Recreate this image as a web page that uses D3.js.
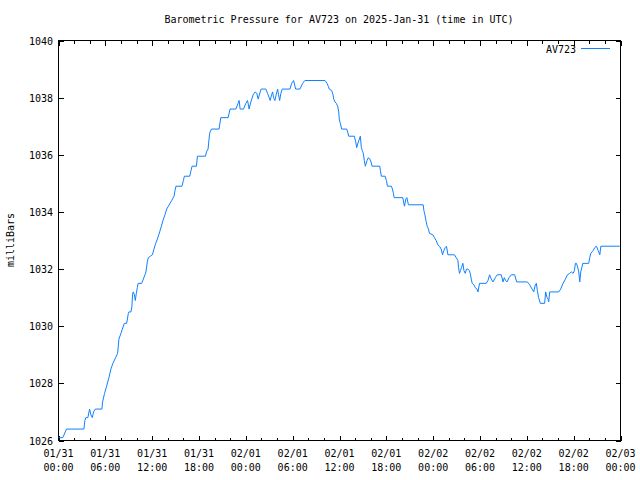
<!DOCTYPE html>
<html>
<head>
<meta charset="utf-8">
<script src="https://cdn.jsdelivr.net/npm/d3@7"></script>
<style>
html,body{margin:0;padding:0;background:#fff;}
svg text{font-family:"DejaVu Sans Mono","Liberation Mono",monospace;font-size:10px;fill:#000;}
</style>
</head>
<body>
<svg id="chart" width="640" height="480"></svg>
<script>
// hours since 2025-01-31 00:00 UTC
const hours = [0,0.55,1.03,3.25,3.38,3.5,3.76,3.98,4.15,4.33,4.49,4.71,5.56,5.65,5.9,6.16,6.46,6.71,6.97,7.32,7.57,7.66,7.74,8.0,8.18,8.43,8.73,8.95,9.02,9.28,9.41,9.5,9.59,9.72,9.84,9.97,10.1,10.2,10.65,10.87,11.08,11.2,11.38,11.51,11.77,12.03,12.23,12.45,12.67,12.96,13.18,13.44,13.64,13.86,14.08,14.28,14.5,14.8,14.93,15.05,15.82,16.0,16.13,16.81,16.98,17.11,17.67,17.8,18.83,18.96,19.16,19.25,19.34,19.42,19.6,20.57,20.79,21.73,21.98,22.72,23.01,23.14,23.27,23.7,24.0,24.22,24.42,24.64,24.94,25.19,25.41,25.58,25.84,25.96,26.57,26.78,26.99,27.12,27.3,27.43,27.56,27.72,27.89,28.07,28.2,28.33,28.49,28.66,29.65,29.87,30.12,30.38,30.93,31.28,31.57,34.14,34.4,34.56,34.69,35.0,35.17,35.26,35.42,35.59,35.77,35.9,35.97,36.1,36.28,36.92,37.05,37.18,37.9,38.08,38.2,38.41,38.54,38.67,38.8,38.92,39.05,39.18,39.31,39.53,39.7,39.88,40.04,40.17,41.16,41.24,41.36,41.84,42.01,42.14,42.65,42.78,42.91,43.0,44.11,44.32,44.5,44.63,44.75,44.83,46.72,46.81,46.94,47.07,47.23,47.4,47.53,47.96,48.17,48.38,48.6,48.81,49.03,49.19,49.37,49.54,49.71,49.89,50.73,50.95,51.17,51.25,51.37,51.5,51.63,51.81,51.94,52.11,52.27,52.45,52.62,52.75,52.88,53.0,53.22,53.39,53.61,53.74,53.94,54.8,55.02,55.23,55.44,55.66,55.96,56.21,56.73,56.95,57.11,57.28,57.46,57.72,58.01,58.44,58.7,60.07,60.36,60.67,60.88,61.09,61.22,61.35,61.51,61.73,62.28,62.41,62.59,62.72,62.8,62.93,64.08,64.34,64.64,64.94,65.2,65.49,65.71,65.93,66.1,66.22,66.35,66.48,66.65,66.78,66.91,67.09,67.16,67.93,68.06,68.19,68.5,68.7,68.92,69.14,69.35,69.48,71.9];
const pressure = [1026.1,1026.1,1026.4,1026.4,1026.7,1026.8,1026.8,1027.1,1026.9,1026.8,1027.0,1027.1,1027.1,1027.35,1027.65,1027.9,1028.2,1028.5,1028.7,1028.9,1029.05,1029.3,1029.55,1029.75,1029.9,1030.1,1030.1,1030.45,1030.5,1030.5,1030.7,1031.15,1031.2,1031.1,1030.9,1031.15,1031.35,1031.5,1031.5,1031.65,1031.8,1031.9,1032.25,1032.4,1032.45,1032.5,1032.7,1032.9,1033.05,1033.3,1033.5,1033.75,1033.9,1034.1,1034.2,1034.3,1034.4,1034.55,1034.75,1034.9,1034.9,1035.1,1035.25,1035.25,1035.45,1035.6,1035.6,1035.95,1035.95,1036.1,1036.2,1036.45,1036.7,1036.8,1036.9,1036.9,1037.3,1037.3,1037.6,1037.6,1037.8,1037.9,1037.6,1037.6,1037.8,1037.9,1037.6,1037.85,1038.1,1038.2,1038.15,1037.95,1038.2,1038.3,1038.3,1038.15,1038.0,1037.9,1038.1,1038.2,1038.0,1037.9,1038.1,1038.3,1038.1,1037.9,1038.15,1038.3,1038.3,1038.5,1038.6,1038.3,1038.3,1038.5,1038.6,1038.6,1038.5,1038.4,1038.3,1038.25,1038.1,1037.95,1037.85,1037.8,1037.7,1037.5,1037.25,1037.1,1036.9,1036.9,1036.8,1036.65,1036.65,1036.45,1036.25,1036.45,1036.55,1036.65,1036.25,1036.15,1036.05,1035.8,1035.6,1035.8,1035.9,1035.85,1035.75,1035.6,1035.6,1035.45,1035.25,1035.25,1035.1,1034.9,1034.9,1034.8,1034.65,1034.5,1034.5,1034.2,1034.45,1034.5,1034.35,1034.25,1034.25,1034.05,1033.9,1033.7,1033.5,1033.4,1033.25,1033.2,1033.1,1033.0,1032.85,1032.8,1032.7,1032.5,1032.65,1032.75,1032.8,1032.5,1032.5,1032.4,1032.3,1032.05,1031.85,1031.95,1032.05,1032.2,1031.95,1031.85,1032.0,1032.0,1031.95,1031.85,1031.65,1031.5,1031.45,1031.35,1031.3,1031.2,1031.5,1031.5,1031.6,1031.8,1031.65,1031.55,1031.7,1031.8,1031.8,1031.55,1031.7,1031.6,1031.55,1031.7,1031.8,1031.8,1031.55,1031.55,1031.45,1031.3,1031.2,1031.45,1031.5,1031.25,1031.0,1030.8,1030.8,1031.2,1031.0,1030.95,1030.85,1031.2,1031.2,1031.3,1031.5,1031.65,1031.8,1031.85,1031.9,1031.85,1031.95,1032.2,1032.2,1032.1,1031.9,1031.55,1031.9,1032.1,1032.2,1032.2,1032.4,1032.55,1032.65,1032.75,1032.8,1032.65,1032.5,1032.8,1032.8];

const xTickHours = [0,6,12,18,24,30,36,42,48,54,60,66,72];
const xTickDates = ["01/31","01/31","01/31","01/31","02/01","02/01","02/01","02/01","02/02","02/02","02/02","02/02","02/03"];
const xTickTimes = ["00:00","06:00","12:00","18:00","00:00","06:00","12:00","18:00","00:00","06:00","12:00","18:00","00:00"];
const yTicks = [1026,1028,1030,1032,1034,1036,1038,1040];
const seriesName = "AV723";
const titleText = "Barometric Pressure for AV723 on 2025-Jan-31 (time in UTC)";
const yLabel = "milliBars";

const L = 58, R = 620, T = 40, B = 440;
const svg = d3.select("#chart");
const x = d3.scaleLinear().domain([0,72]).range([L+0.5, R+0.5]);
const y = d3.scaleLinear().domain([1026,1040]).range([B+0.5, T+0.5]);
const col = "#0f80ff";

// minor ticks every 2h, major every 6h
const minorX = d3.range(0,73,2).filter(h => h % 6 !== 0);

// bottom axis
const xb = svg.append("g").attr("transform",`translate(0,${B+0.5})`)
  .call(d3.axisBottom(x).tickValues(xTickHours).tickSize(-5).tickFormat(""));
xb.select(".domain").remove();
const xbm = svg.append("g").attr("transform",`translate(0,${B+0.5})`)
  .call(d3.axisBottom(x).tickValues(minorX).tickSize(-3).tickFormat(""));
xbm.select(".domain").remove();
const xt = svg.append("g").attr("transform",`translate(0,${T+0.5})`)
  .call(d3.axisTop(x).tickValues(xTickHours).tickSize(-5).tickFormat(""));
xt.select(".domain").remove();
const xtm = svg.append("g").attr("transform",`translate(0,${T+0.5})`)
  .call(d3.axisTop(x).tickValues(minorX).tickSize(-3).tickFormat(""));
xtm.select(".domain").remove();

const yl = svg.append("g").attr("transform",`translate(${L+0.5},0)`)
  .call(d3.axisLeft(y).tickValues(yTicks).tickSize(-5).tickFormat(""));
yl.select(".domain").remove();
const yr = svg.append("g").attr("transform",`translate(${R+0.5},0)`)
  .call(d3.axisRight(y).tickValues(yTicks).tickSize(-5).tickFormat(""));
yr.select(".domain").remove();
svg.selectAll(".tick line").attr("stroke","#000").attr("shape-rendering","crispEdges");

// frame
svg.append("rect").attr("x",L+0.5).attr("y",T+0.5).attr("width",R-L).attr("height",B-T)
  .attr("fill","none").attr("stroke","#000").attr("shape-rendering","crispEdges");

// x labels
const xl = svg.append("g");
xTickHours.forEach((h,i)=>{
  const t = xl.append("text").attr("x",x(h)).attr("text-anchor","middle");
  t.append("tspan").attr("x",x(h)).attr("y",457).text(xTickDates[i]);
  t.append("tspan").attr("x",x(h)).attr("y",471).text(xTickTimes[i]);
});
// y labels
svg.append("g").selectAll("text").data(yTicks).join("text")
  .attr("x",53).attr("y",d=>y(d)+4).attr("text-anchor","end").text(d=>d);

// title
svg.append("text").attr("x",339).attr("y",23).attr("text-anchor","middle").text(titleText);
// y label
svg.append("text").attr("transform","translate(14,240) rotate(-90)").attr("text-anchor","middle").text(yLabel);

// line
const line = d3.line().x((d,i)=>x(hours[i])).y(d=>y(d));
svg.append("path").datum(pressure).attr("d",line).attr("fill","none")
  .attr("stroke",col).attr("stroke-width",1);

// legend
svg.append("text").attr("x",576).attr("y",53).attr("text-anchor","end").text(seriesName);
svg.append("line").attr("x1",581).attr("x2",610).attr("y1",48.5).attr("y2",48.5)
  .attr("stroke",col).attr("stroke-width",1).attr("shape-rendering","crispEdges");
</script>
</body>
</html>
